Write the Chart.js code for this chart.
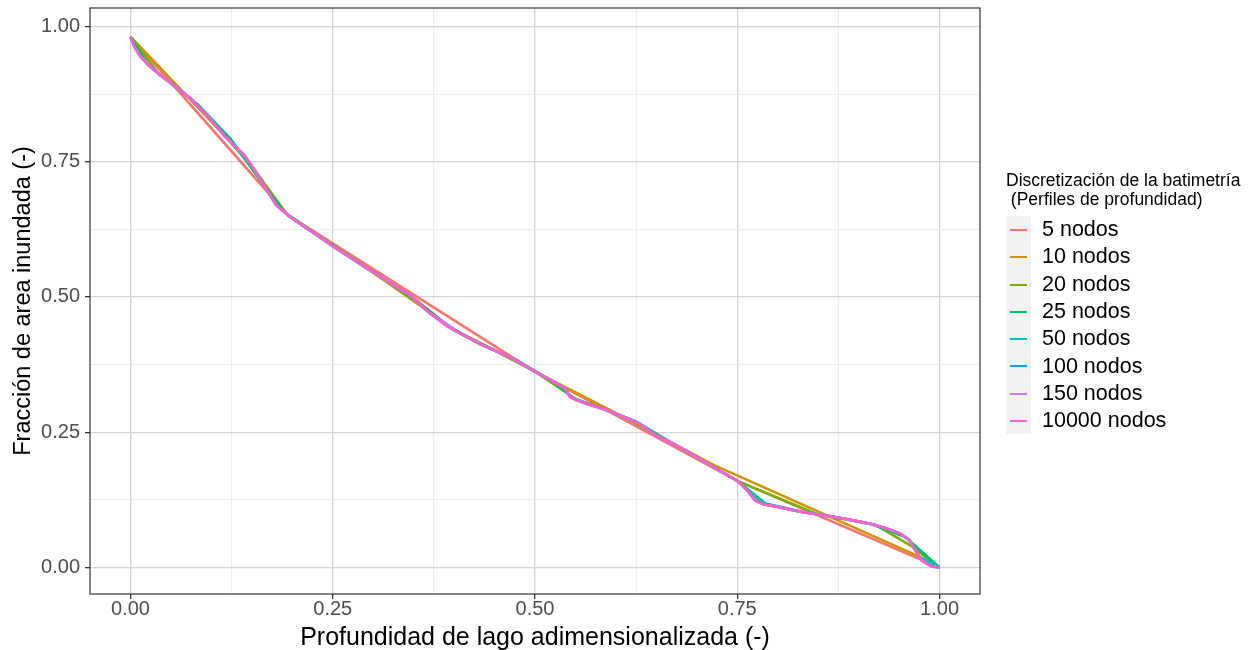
<!DOCTYPE html>
<html>
<head>
<meta charset="utf-8">
<script src="https://cdn.jsdelivr.net/npm/chart.js"></script>
<style>
  body { margin: 0; background: #fff; font-family: 'Liberation Sans', Arial, sans-serif; }
  #wrap { position: relative; width: 1251px; height: 650px; }
  #legend { position: absolute; left: 1006px; top: 171px; color: #000; }
  #legend .title { font-size: 17.5px; line-height: 19px; white-space: pre; margin-bottom: 7px; }
  #legend .keys { display: flex; flex-direction: column; }
  #legend .item { display: flex; align-items: center; height: 27.3px; }
  #legend .key { width: 25px; height: 27.3px; background: #f2f2f2; position: relative; }
  #legend .key span { position: absolute; left: 4px; right: 4px; top: 13px; height: 2px; }
  #legend .lab { font-size: 21.5px; margin-left: 11px; }
</style>
</head>
<body>
<div id="wrap">
  <canvas id="chart" width="1251" height="650"></canvas>
  <div id="legend"></div>
</div>
<script>
// curvas de area inundada segun numero de nodos del perfil [profundidad, fraccion]
const nodos5 = [[0, 0.981], [0.194, 0.652], [0.5, 0.362], [0.75, 0.160], [1, 0]];
const nodos10 = [[0, 0.981], [0.13, 0.777], [0.194, 0.652], [0.30, 0.545], [0.40, 0.440],
  [0.50, 0.362], [0.61, 0.278], [0.72, 0.190], [0.975, 0.020], [1, 0]];
const nodos20 = [[0, 0.981], [0.035, 0.912], [0.075, 0.866], [0.115, 0.800], [0.152, 0.738],
  [0.194, 0.651], [0.25, 0.594], [0.30, 0.545], [0.35, 0.498], [0.40, 0.438], [0.45, 0.402],
  [0.50, 0.362], [0.55, 0.312], [0.62, 0.272], [0.68, 0.220], [0.75, 0.160], [0.85, 0.098],
  [0.92, 0.079], [0.965, 0.040], [1, 0]];
const nodos25 = [[0, 0.981], [0.021, 0.930], [0.042, 0.904], [0.083, 0.856], [0.125, 0.790],
  [0.167, 0.702], [0.190, 0.657], [0.229, 0.616], [0.271, 0.574], [0.313, 0.534], [0.354, 0.492],
  [0.396, 0.442], [0.438, 0.409], [0.479, 0.382], [0.521, 0.345], [0.548, 0.312], [0.583, 0.294],
  [0.625, 0.270], [0.667, 0.232], [0.708, 0.197], [0.750, 0.160], [0.785, 0.118], [0.833, 0.102],
  [0.875, 0.092], [0.917, 0.080], [0.958, 0.056], [1, 0]];
const nodos50 = [[0, 0.981], [0.005, 0.962], [0.012, 0.945], [0.022, 0.929], [0.035, 0.912],
  [0.055, 0.890], [0.075, 0.866], [0.095, 0.835], [0.115, 0.800], [0.135, 0.770], [0.152, 0.738],
  [0.170, 0.694], [0.185, 0.664], [0.200, 0.645], [0.225, 0.620], [0.250, 0.594], [0.285, 0.560],
  [0.317, 0.530], [0.346, 0.502], [0.370, 0.470], [0.407, 0.433], [0.432, 0.413], [0.469, 0.389],
  [0.500, 0.362], [0.537, 0.331], [0.545, 0.314], [0.565, 0.302], [0.590, 0.290], [0.617, 0.274],
  [0.630, 0.265], [0.651, 0.243], [0.675, 0.225], [0.700, 0.204], [0.725, 0.182], [0.750, 0.160],
  [0.765, 0.140], [0.780, 0.120], [0.800, 0.112], [0.831, 0.102], [0.860, 0.096], [0.890, 0.088],
  [0.915, 0.080], [0.935, 0.071], [0.951, 0.062], [0.963, 0.050], [0.975, 0.020], [1, 0]];
const nodos100 = [[0, 0.981], [0.005, 0.962], [0.012, 0.945], [0.022, 0.929], [0.035, 0.912],
  [0.055, 0.890], [0.075, 0.866], [0.095, 0.835], [0.115, 0.800], [0.130, 0.777], [0.140, 0.763],
  [0.152, 0.738], [0.165, 0.706], [0.180, 0.670], [0.190, 0.657], [0.200, 0.645], [0.225, 0.620],
  [0.250, 0.594], [0.285, 0.560], [0.317, 0.530], [0.346, 0.503], [0.370, 0.470], [0.407, 0.433],
  [0.432, 0.413], [0.469, 0.389], [0.500, 0.362], [0.520, 0.346], [0.537, 0.331], [0.543, 0.316],
  [0.550, 0.310], [0.565, 0.302], [0.590, 0.290], [0.617, 0.274], [0.630, 0.265], [0.651, 0.243],
  [0.675, 0.225], [0.700, 0.204], [0.725, 0.182], [0.750, 0.160], [0.762, 0.143], [0.772, 0.124],
  [0.782, 0.117], [0.800, 0.112], [0.831, 0.102], [0.860, 0.096], [0.890, 0.088], [0.915, 0.081],
  [0.935, 0.072], [0.951, 0.063], [0.962, 0.052], [0.970, 0.032], [0.978, 0.013], [0.990, 0.002], [1, 0]];
const nodos150 = [[0, 0.981], [0.005, 0.962], [0.012, 0.945], [0.022, 0.929], [0.035, 0.912],
  [0.055, 0.890], [0.075, 0.866], [0.095, 0.835], [0.115, 0.800], [0.130, 0.777], [0.140, 0.763],
  [0.152, 0.738], [0.165, 0.706], [0.180, 0.670], [0.190, 0.657], [0.200, 0.645], [0.225, 0.620],
  [0.250, 0.594], [0.285, 0.560], [0.317, 0.530], [0.346, 0.503], [0.370, 0.470], [0.407, 0.433],
  [0.432, 0.413], [0.469, 0.389], [0.500, 0.362], [0.520, 0.346], [0.537, 0.331], [0.543, 0.316],
  [0.550, 0.310], [0.565, 0.302], [0.590, 0.290], [0.617, 0.274], [0.630, 0.265], [0.651, 0.243],
  [0.675, 0.225], [0.700, 0.204], [0.725, 0.182], [0.750, 0.160], [0.762, 0.143], [0.772, 0.124],
  [0.782, 0.117], [0.800, 0.112], [0.831, 0.102], [0.860, 0.096], [0.890, 0.088], [0.915, 0.081],
  [0.935, 0.072], [0.951, 0.063], [0.962, 0.052], [0.970, 0.032], [0.978, 0.013], [0.990, 0.002], [1, 0]];
const nodos10000 = [[0, 0.981], [0.005, 0.962], [0.012, 0.945], [0.022, 0.929], [0.035, 0.912],
  [0.055, 0.890], [0.075, 0.866], [0.095, 0.834], [0.115, 0.800], [0.130, 0.777], [0.140, 0.763],
  [0.152, 0.738], [0.165, 0.706], [0.180, 0.670], [0.190, 0.657], [0.200, 0.645], [0.225, 0.620],
  [0.250, 0.594], [0.285, 0.560], [0.317, 0.530], [0.346, 0.503], [0.370, 0.470], [0.390, 0.447],
  [0.407, 0.433], [0.432, 0.413], [0.469, 0.389], [0.500, 0.362], [0.520, 0.346], [0.537, 0.331],
  [0.543, 0.316], [0.550, 0.310], [0.565, 0.302], [0.590, 0.290], [0.617, 0.274], [0.630, 0.265],
  [0.651, 0.243], [0.675, 0.225], [0.700, 0.204], [0.725, 0.182], [0.750, 0.160], [0.762, 0.143],
  [0.772, 0.124], [0.782, 0.117], [0.800, 0.112], [0.831, 0.102], [0.860, 0.096], [0.890, 0.088],
  [0.915, 0.081], [0.935, 0.072], [0.951, 0.063], [0.962, 0.052], [0.970, 0.032], [0.978, 0.013],
  [0.990, 0.002], [1, 0]];

const series = [nodos5, nodos10, nodos20, nodos25, nodos50, nodos100, nodos150, nodos10000];
const etiquetas = ['5 nodos', '10 nodos', '20 nodos', '25 nodos', '50 nodos', '100 nodos', '150 nodos', '10000 nodos'];
const colores = ['#F8766D', '#CD9600', '#7CAE00', '#00BE67', '#00BFC4', '#00A9FF', '#C77CFF', '#FF61CC'];
const ticksX = [0, 0.125, 0.25, 0.375, 0.5, 0.625, 0.75, 0.875, 1];
const ticksY = [0, 0.125, 0.25, 0.375, 0.5, 0.625, 0.75, 0.875, 1];

const FONT = "'Liberation Sans', Arial, sans-serif";
const esMayor = v => Math.round(v * 8) % 2 === 0;

// marco del panel (estilo theme_bw)
const marco = {
  id: 'marco',
  afterDraw(chart) {
    const { ctx, chartArea: a } = chart;
    ctx.save();
    ctx.strokeStyle = '#333333';
    ctx.lineWidth = 1.2;
    ctx.strokeRect(a.left, a.top, a.right - a.left, a.bottom - a.top);
    ctx.restore();
  }
};

const gridOpts = {
  color: c => esMayor(c.tick.value) ? '#d4d4d4' : '#eeeeee',
  lineWidth: c => esMayor(c.tick.value) ? 1.3 : 1,
  tickColor: c => esMayor(c.tick.value) ? '#333333' : 'rgba(0,0,0,0)',
  tickLength: 5
};

function escala(min, max, valores, titulo, fit, tickPad, titleSize, titlePad) {
  return {
    type: 'linear', min, max,
    afterBuildTicks: ax => { ax.ticks = valores.map(v => ({ value: v })); },
    // tamaño fijo del eje y sin margen extra por las etiquetas de los extremos
    afterFit: ax => {
      fit(ax);
      ax.paddingTop = 0; ax.paddingBottom = 0;
      ax.paddingLeft = 0; ax.paddingRight = 0;
    },
    border: { display: false },
    grid: gridOpts,
    ticks: {
      autoSkip: false, maxRotation: 0, padding: tickPad,
      color: '#4d4d4d', font: { family: FONT, size: 20 },
      callback: v => esMayor(v) ? v.toFixed(2) : ''
    },
    title: { display: true, text: titulo, color: '#000', font: { family: FONT, size: titleSize }, padding: titlePad }
  };
}

new Chart(document.getElementById('chart'), {
  type: 'line',
  data: {
    datasets: series.map((s, i) => ({
      label: etiquetas[i],
      data: s.map(p => ({ x: p[0], y: p[1] })),
      borderColor: colores[i],
      backgroundColor: colores[i],
      borderWidth: 2.6,
      pointRadius: 0,
      fill: false,
      order: series.length - i
    }))
  },
  options: {
    responsive: false,
    animation: false,
    layout: { padding: { top: 8, right: 271, left: 0, bottom: 0 } },
    plugins: { legend: { display: false }, tooltip: { enabled: false } },
    scales: {
      x: escala(-0.05, 1.05, ticksX, 'Profundidad de lago adimensionalizada (-)', ax => { ax.height = 56; },
        -2, 25, { top: 0, bottom: -3 }),
      y: escala(-0.049, 1.034, ticksY, 'Fracción de area inundada (-)', ax => { ax.width = 90; },
        5, 23.5, { top: 9, bottom: 0 })
    }
  },
  plugins: [marco]
});

// leyenda
const leyenda = document.getElementById('legend');
leyenda.innerHTML = '<div class="title">Discretización de la batimetría\n (Perfiles de profundidad)</div>' +
  '<div class="keys">' + etiquetas.map((t, i) =>
    `<div class="item"><div class="key"><span style="background:${colores[i]}"></span></div><div class="lab">${t}</div></div>`
  ).join('') + '</div>';
</script>
</body>
</html>
